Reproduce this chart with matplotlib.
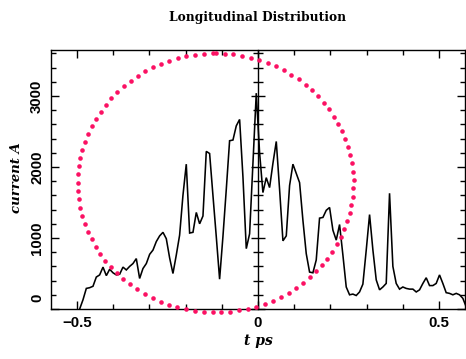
import numpy as np
import matplotlib
matplotlib.use("Agg")
import matplotlib.pyplot as plt
from matplotlib.ticker import MultipleLocator, FuncFormatter

# ---- data -------------------------------------------------------------
t_ps = [-0.4928, -0.4836, -0.4744, -0.4652, -0.4560, -0.4468, -0.4376, -0.4283,
        -0.4191, -0.4099, -0.4007, -0.3915, -0.3823, -0.3731, -0.3639, -0.3547,
        -0.3455, -0.3363, -0.3271, -0.3179, -0.3086, -0.2994, -0.2902, -0.2810,
        -0.2718, -0.2626, -0.2534, -0.2442, -0.2350, -0.2258, -0.2166, -0.2074,
        -0.1982, -0.1889, -0.1797, -0.1705, -0.1613, -0.1521, -0.1429, -0.1337,
        -0.1245, -0.1153, -0.1061, -0.0969, -0.0877, -0.0785, -0.0692, -0.0600,
        -0.0508, -0.0416, -0.0324, -0.0232, -0.0140, -0.0048, 0.0044, 0.0136,
        0.0228, 0.0320, 0.0412, 0.0505, 0.0597, 0.0689, 0.0781, 0.0873,
        0.0965, 0.1057, 0.1149, 0.1241, 0.1333, 0.1425, 0.1517, 0.1609,
        0.1701, 0.1794, 0.1886, 0.1978, 0.2070, 0.2162, 0.2254, 0.2346,
        0.2438, 0.2530, 0.2622, 0.2714, 0.2806, 0.2898, 0.2991, 0.3083,
        0.3175, 0.3267, 0.3359, 0.3451, 0.3543, 0.3635, 0.3727, 0.3819,
        0.3911, 0.4003, 0.4095, 0.4188, 0.4280, 0.4372, 0.4464, 0.4556,
        0.4648, 0.4740, 0.4832, 0.4924, 0.5016, 0.5108, 0.5200, 0.5292,
        0.5385, 0.5477, 0.5569, 0.5661, 0.5753]

current_A = [0, 130, 290, 300, 320, 450, 480, 590,
             470, 560, 510, 480, 490, 590, 550, 600,
             640, 710, 430, 570, 640, 770, 830, 950,
             1030, 1080, 990, 720, 500, 760, 1040, 1600,
             2040, 1070, 1080, 1360, 1200, 1310, 2220, 2190,
             1600, 1020, 420, 1020, 1680, 2370, 2380, 2580,
             2670, 1860, 850, 1060, 2050, 3040, 2200, 1640,
             1850, 1710, 2050, 2360, 1680, 960, 1030, 1740,
             2040, 1910, 1780, 1250, 780, 520, 510, 690,
             1280, 1290, 1390, 1430, 1110, 970, 1190, 760,
             310, 200, 210, 190, 240, 350, 830, 1330,
             830, 410, 270, 310, 360, 1630, 600, 360,
             280, 310, 290, 280, 280, 240, 270, 360,
             440, 330, 330, 360, 480, 360, 230, 220,
             200, 220, 200, 150, 30]

# ellipse (phase-space outline) parameters
ellipse_center_t = -0.117
ellipse_center_I = 1777
ellipse_half_t = 0.381
ellipse_half_I = 1824
ellipse_n = 97.3

x_ticks_major = [-0.5, 0, 0.5]
y_ticks_major = [0, 1000, 2000, 3000]

# ---- figure -----------------------------------------------------------
W, H = 466, 359
fig = plt.figure(figsize=(W / 100, H / 100), dpi=100)
ax = fig.add_axes([51 / W, 50 / H, 414 / W, 259 / H])

ax.plot(t_ps, current_A, color="black", lw=1.15, solid_joinstyle="miter")

step = 2 * np.pi / ellipse_n
ang = np.arange(0, 2 * np.pi, step)
ex = ellipse_center_t + ellipse_half_t * np.sin(ang)
ey = ellipse_center_I + ellipse_half_I * np.cos(ang)
ax.plot(ex, ey, ls="none", marker="o", ms=3.3, color="#fb1163",
        mec="none", clip_on=False, zorder=3)

ax.set_xlim(-0.572, 0.572)
ax.set_ylim(0, 3648)
ax.set_xticks(x_ticks_major)
ax.set_yticks(y_ticks_major)
ax.xaxis.set_minor_locator(MultipleLocator(0.1))
ax.yaxis.set_minor_locator(MultipleLocator(200))

ax.xaxis.set_major_formatter(FuncFormatter(lambda v, p: "0" if abs(v) < 1e-9 else f"{v:g}".replace("-", "\u2212")))
ax.yaxis.set_major_formatter(FuncFormatter(lambda v, p: "" if abs(v) < 1e-9 else f"{int(v)}"))

for s in ax.spines.values():
    s.set_linewidth(1.0)

TICK_FS = 10.8
ax.tick_params(which="both", direction="in", top=True, right=True, width=1.0)
ax.tick_params(which="major", length=5.5, pad=5.0)
ax.tick_params(which="minor", length=3.3)
ax.tick_params(axis="y", labelrotation=90)
for lab in ax.get_yticklabels() + ax.get_xticklabels():
    lab.set_fontfamily("Liberation Sans")
    lab.set_fontweight("bold")
    lab.set_fontsize(TICK_FS)
for lab in ax.get_yticklabels():
    lab.set_va("center")

# zero tick label on y, nudged upward as in the reference
ax.annotate("0", xy=(0, 0), xycoords=("axes fraction", "data"),
            xytext=(-7, 11), textcoords="offset pixels",
            rotation=90, ha="right", va="center",
            family="Liberation Sans", weight="bold", fontsize=TICK_FS)

# vertical axis line at t = 0 with ticks on both sides
sec = ax.secondary_yaxis(0.5)
sec.yaxis.set_major_locator(MultipleLocator(1000))
sec.yaxis.set_minor_locator(MultipleLocator(200))
sec.spines["left"].set_linewidth(1.0)
sec.spines["right"].set_linewidth(1.0)
sec.tick_params(which="both", direction="inout", width=1.0,
                labelleft=False, labelright=False)
sec.tick_params(which="major", length=10)
sec.tick_params(which="minor", length=6.5)

fig.text(258 / W, 1 - 17 / H, "Longitudinal Distribution", ha="center",
         va="center", family="DejaVu Serif", weight="bold", fontsize=8.8)
fig.text(258 / W, 1 - 341 / H, "t ps", ha="center", va="center",
         family="DejaVu Serif", style="italic", weight="bold", fontsize=10)
fig.text(17 / W, 1 - 178 / H, "current A", ha="center", va="center",
         rotation=90, family="DejaVu Serif", style="italic", weight="bold",
         fontsize=9.5)

fig.savefig("out.png", dpi=100)
